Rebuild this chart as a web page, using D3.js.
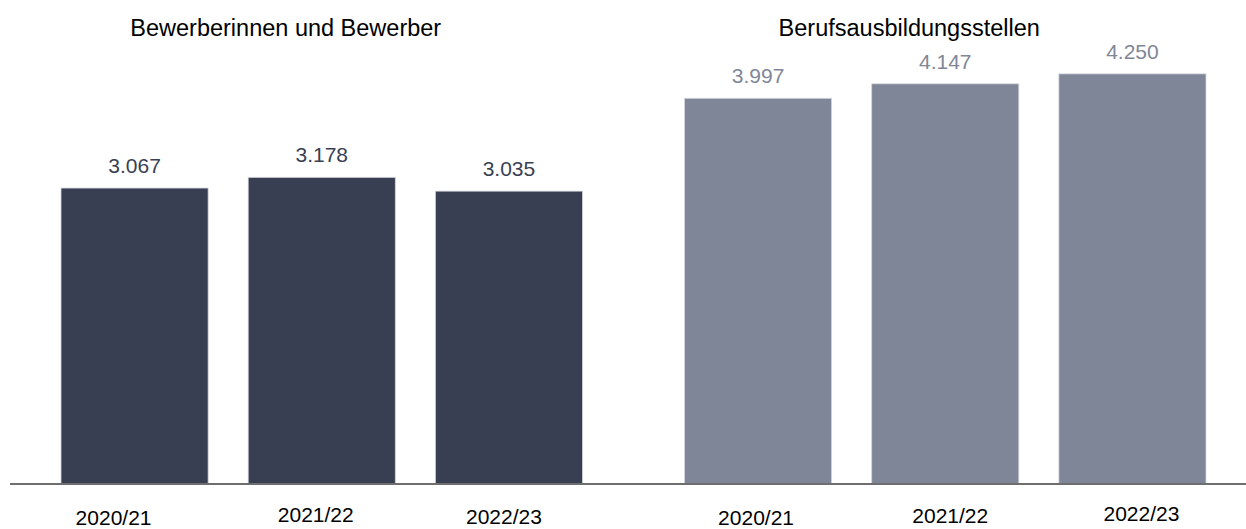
<!DOCTYPE html>
<html>
<head>
<meta charset="utf-8">
<script src="https://cdn.jsdelivr.net/npm/d3@7"></script>
<style>
    body { margin: 0; background: #fff; }
    svg { display: block; font-family: "Liberation Sans", Arial, sans-serif; }
</style>
</head>
<body>
<div id="chart"></div>
<script>
// data
const groups = ["Bewerberinnen und Bewerber", "Berufsausbildungsstellen"];
const years = ["2020/21", "2021/22", "2022/23"];
const applicants = [3.067, 3.178, 3.035];
const positions = [3.997, 4.147, 4.250];

const width = 1246;
const height = 529;
const baseY = 484;

const barColors = ["#383f53", "#7f8698"];
const labelColors = ["#383f53", "#7f8698"];

// little nudges of the year labels, as in the original layout
const tickNudge = [
    [{ dx: -21, y: 525 }, { dx: -6, y: 522 }, { dx: -5, y: 524 }],
    [{ dx: -2, y: 525 }, { dx: 5, y: 523 }, { dx: 9, y: 521 }]
];

const data = groups.map((g, gi) => ({
    group: g,
    values: years.map((yr, i) => ({ year: yr, value: [applicants, positions][gi][i] }))
}));

const svg = d3.select("#chart").append("svg")
    .attr("width", width)
    .attr("height", height);

const x0 = d3.scaleBand()
    .domain(groups)
    .range([61, 1206])
    .paddingInner(0.1636)
    .paddingOuter(0);

const x1 = d3.scaleBand()
    .domain(years)
    .range([0, x0.bandwidth()])
    .paddingInner(0.214)
    .paddingOuter(0);

const y = d3.scaleLinear()
    .domain([0, 5])
    .range([baseY, baseY - 5 * 96.5]);

const fmt = d3.formatLocale({ decimal: ",", thousands: ".", grouping: [3], currency: ["", "€"] });

const g = svg.selectAll("g.group")
    .data(data)
    .join("g")
    .attr("class", "group")
    .attr("transform", d => `translate(${x0(d.group)},0)`);

// group titles
g.append("text")
    .attr("x", x0.bandwidth() / 2 - 36)
    .attr("y", 36)
    .attr("text-anchor", "middle")
    .style("font-size", "23.5px")
    .style("fill", "#000")
    .text(d => d.group);

g.each(function (d, gi) {
    const sel = d3.select(this);

    sel.selectAll("rect")
        .data(d.values)
        .join("rect")
        .attr("x", v => x1(v.year))
        .attr("y", v => y(v.value))
        .attr("width", x1.bandwidth())
        .attr("height", v => baseY - y(v.value))
        .attr("fill", barColors[gi])
        .attr("stroke", "#d4d7de")
        .attr("stroke-width", 0.8);

    // value labels (thousands shown as 3.067 etc.)
    sel.selectAll("text.value")
        .data(d.values)
        .join("text")
        .attr("class", "value")
        .attr("x", v => x1(v.year) + x1.bandwidth() / 2)
        .attr("y", v => y(v.value) - 15)
        .attr("text-anchor", "middle")
        .style("font-size", "21px")
        .style("fill", labelColors[gi])
        .text(v => fmt.format(",.0f")(v.value * 1000));

    // year labels
    sel.selectAll("text.year")
        .data(d.values)
        .join("text")
        .attr("class", "year")
        .attr("x", (v, i) => x1(v.year) + x1.bandwidth() / 2 + tickNudge[gi][i].dx)
        .attr("y", (v, i) => tickNudge[gi][i].y)
        .attr("text-anchor", "middle")
        .style("font-size", "21px")
        .style("fill", "#000")
        .text(v => v.year);
});

// base line
svg.append("line")
    .attr("x1", 10)
    .attr("x2", width)
    .attr("y1", baseY)
    .attr("y2", baseY)
    .attr("stroke", "#6e6e6e")
    .attr("stroke-width", 2);
</script>
</body>
</html>
